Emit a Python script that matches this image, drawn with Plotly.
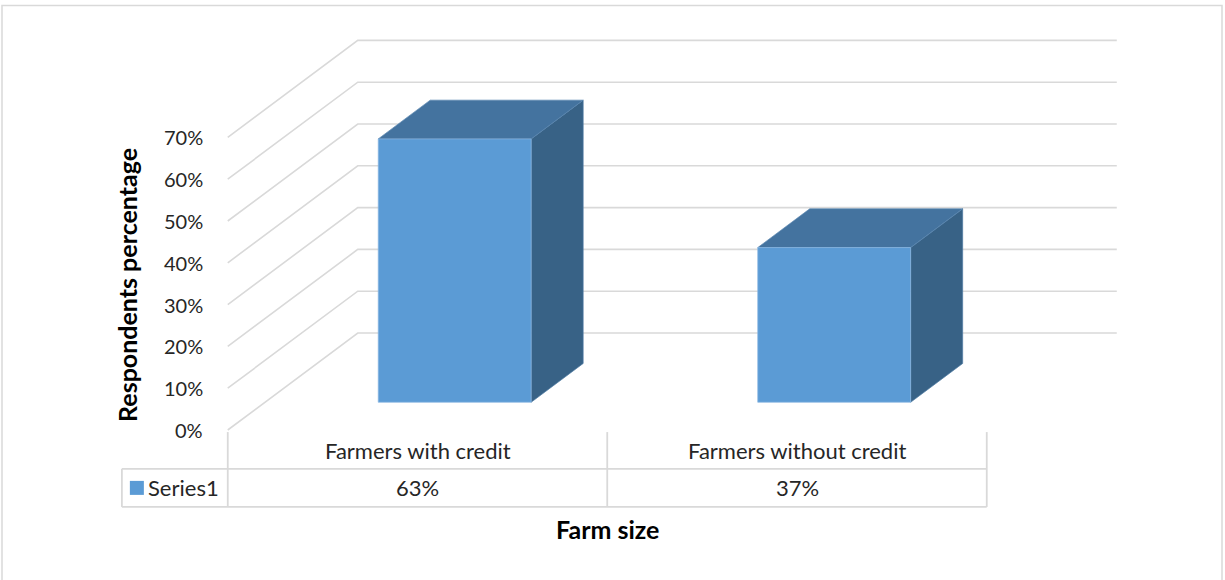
import plotly.graph_objects as go

# ---- data -------------------------------------------------------------
categories = ["Farmers with credit", "Farmers without credit"]
series_name = "Series1"
values = [63, 37]                      # respondents, percent
y_ticks = [0, 10, 20, 30, 40, 50, 60, 70]
y_tick_labels = [f"{v}%" for v in y_ticks]

# ---- geometry of the pseudo-3D frame (category units / percent units) --
CAT_PX = 379.5          # pixels per category step
PCT_PX = 4.18           # pixels per percentage point
X0_PX, Y0_PX = 417.5, 430.0   # pixel position of category 0 / 0 %
W, H = 1225, 580

DX = 0.3426             # wall depth, horizontal (category units)
DY = 23.2               # wall depth, vertical (percent units)
BAR_W = 0.403           # bar width (category units)
F_FRONT, F_BACK = 0.286, 0.686   # bar depth span as fraction of wall depth

FRONT = "#5B9BD5"
TOP = "#44739F"
SIDE = "#386286"
GRID = "#D9D9D9"
FONT = "Lato"
TEXT = "#262626"


def proj(x, y, f):
    """Project a point at depth fraction f onto the chart plane."""
    return x + f * DX, y + f * DY


def poly(points):
    xs, ys = zip(*points)
    return list(xs) + [xs[0]], list(ys) + [ys[0]]


fig = go.Figure()

# back-wall and side-wall gridlines
x_left, x_right = -0.5, len(categories) - 0.5
for v in y_ticks:
    pts = [proj(x_left, v, 0), proj(x_left, v, 1), proj(x_right, v, 1)]
    fig.add_trace(go.Scatter(
        x=[p[0] for p in pts], y=[p[1] for p in pts], mode="lines",
        line=dict(color=GRID, width=1.6), hoverinfo="skip", showlegend=False))

# 3D columns: side, top, front
for i, v in enumerate(values):
    l, r = i - BAR_W / 2, i + BAR_W / 2
    side = [proj(r, 0, F_FRONT), proj(r, 0, F_BACK), proj(r, v, F_BACK), proj(r, v, F_FRONT)]
    top = [proj(l, v, F_FRONT), proj(r, v, F_FRONT), proj(r, v, F_BACK), proj(l, v, F_BACK)]
    front = [proj(l, 0, F_FRONT), proj(r, 0, F_FRONT), proj(r, v, F_FRONT), proj(l, v, F_FRONT)]
    for face, col, edge in ((side, SIDE, "#4F7BA3"), (top, TOP, "#5A86B0"), (front, FRONT, "#8DB8E2")):
        xs, ys = poly(face)
        fig.add_trace(go.Scatter(
            x=xs, y=ys, mode="lines", fill="toself", fillcolor=col,
            line=dict(color=edge, width=0.7), hoverinfo="skip", showlegend=False))

annotations = []

# y tick labels at the front edge of the side wall
for v, t in zip(y_ticks, y_tick_labels):
    annotations.append(dict(
        x=-0.5 - 23 / CAT_PX, y=v, text=t, xanchor="right", yanchor="middle",
        showarrow=False, font=dict(family=FONT, size=20, color=TEXT)))

# data table
ROW_TOP, ROW_MID, ROW_BOT = -0.5, -9.3, -18.4       # percent units
LEG_LEFT = -0.779                                    # category units
shapes = []
table_line = dict(color=GRID, width=1.8)
for k in range(len(categories) + 1):
    xb = k - 0.5
    shapes.append(dict(type="line", xref="x", yref="y", x0=xb, x1=xb,
                       y0=ROW_TOP, y1=ROW_BOT, line=table_line))
shapes.append(dict(type="line", xref="x", yref="y", x0=LEG_LEFT, x1=LEG_LEFT,
                   y0=ROW_MID, y1=ROW_BOT, line=table_line))
for yy in (ROW_MID, ROW_BOT):
    shapes.append(dict(type="line", xref="x", yref="y", x0=LEG_LEFT, x1=x_right,
                       y0=yy, y1=yy, line=table_line))

# legend key inside the table
key_x0 = LEG_LEFT + 8 / CAT_PX
key_x1 = key_x0 + 14 / CAT_PX
key_yc = (ROW_MID + ROW_BOT) / 2
shapes.append(dict(type="rect", xref="x", yref="y", x0=key_x0, x1=key_x1,
                   y0=key_yc - 7 / PCT_PX, y1=key_yc + 7 / PCT_PX,
                   fillcolor=FRONT, line=dict(width=0)))
annotations.append(dict(
    x=key_x1 + 2 / CAT_PX, y=key_yc, text=series_name, xanchor="left",
    yanchor="middle", showarrow=False, font=dict(family=FONT, size=22, color=TEXT)))

for i, (c, v) in enumerate(zip(categories, values)):
    annotations.append(dict(
        x=i, y=(ROW_TOP + ROW_MID) / 2, text=c, showarrow=False,
        xanchor="center", yanchor="middle", font=dict(family=FONT, size=22, color=TEXT)))
    annotations.append(dict(
        x=i, y=key_yc, text=f"{v}%", showarrow=False,
        xanchor="center", yanchor="middle", font=dict(family=FONT, size=22, color=TEXT)))

# axis titles
annotations.append(dict(
    x=0.5, y=-23.7, text="<b>Farm size</b>", showarrow=False,
    xanchor="center", yanchor="middle", font=dict(family=FONT, size=25, color="#000000")))
annotations.append(dict(
    x=(127 - X0_PX) / CAT_PX, y=34.7, text="<b>Respondents percentage</b>", textangle=-90,
    showarrow=False, xanchor="center", yanchor="middle",
    font=dict(family=FONT, size=25, color="#000000")))

# chart area border
shapes.append(dict(type="rect", xref="paper", yref="paper",
                   x0=2 / W, x1=1222 / W, y0=-0.02, y1=1 - 5.5 / H,
                   line=dict(color=GRID, width=1.5), fillcolor="rgba(0,0,0,0)"))

fig.update_layout(
    width=W, height=H,
    margin=dict(l=0, r=0, t=0, b=0),
    paper_bgcolor="white", plot_bgcolor="white",
    xaxis=dict(range=[-X0_PX / CAT_PX, (W - X0_PX) / CAT_PX], visible=False, fixedrange=True),
    yaxis=dict(range=[(Y0_PX - H) / PCT_PX, Y0_PX / PCT_PX], visible=False, fixedrange=True),
    shapes=shapes, annotations=annotations, showlegend=False,
)

fig.write_html("out.html", config={"displayModeBar": False})
